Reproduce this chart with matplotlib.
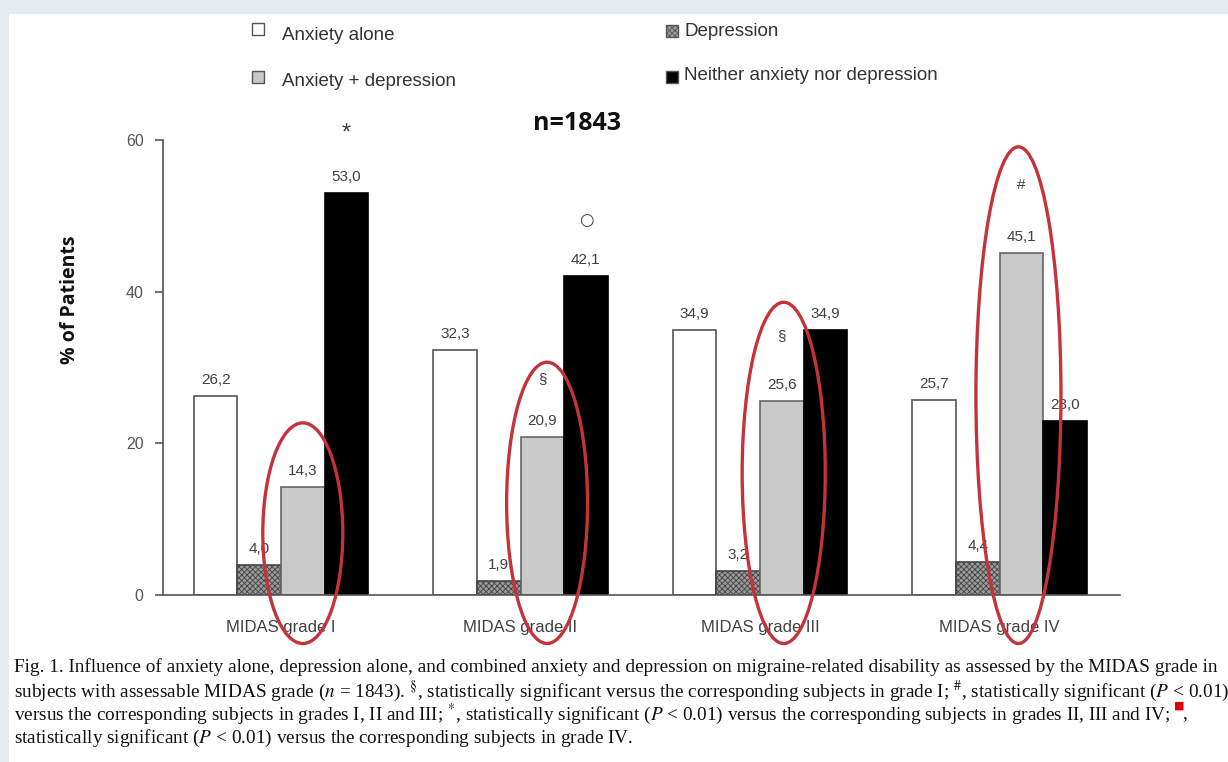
import matplotlib
matplotlib.use("Agg")
import matplotlib.pyplot as plt
from matplotlib.patches import Ellipse, Rectangle
import numpy as np

# data
grades = ["MIDAS grade I", "MIDAS grade II", "MIDAS grade III", "MIDAS grade IV"]
series = ["Anxiety alone", "Depression", "Anxiety + depression",
          "Neither anxiety nor depression"]
anxiety_alone = [26.2, 32.3, 34.9, 25.7]
depression = [4.0, 1.9, 3.2, 4.4]
anxiety_depression = [14.3, 20.9, 25.6, 45.1]
neither = [53.0, 42.1, 34.9, 23.0]
values = [anxiety_alone, depression, anxiety_depression, neither]

# significance marks: (series, grade, symbol)
marks = [(3, 0, "*"), (3, 1, "\u25cb"), (2, 1, "§"), (2, 2, "§"), (2, 3, "#")]
mark_offset = [60, 56, 57, 65, 68]   # pixels above bar top

# red highlight ellipses around the anxiety + depression bars
ellipse_top = [22.7, 30.7, 38.6, 59.1]
ellipse_bottom = -6.4
ellipse_w = [0.334, 0.338, 0.347, 0.355]
ellipse_dx = [0.0, 0.02, 0.008, -0.012]

caption = [
    "Fig. 1. Influence of anxiety alone, depression alone, and combined anxiety and depression on migraine-related disability as assessed by the MIDAS grade in",
    "subjects with assessable MIDAS grade ($\\it{n}$ = 1843). $^{§}$, statistically significant versus the corresponding subjects in grade I; $^{\\#}$, statistically significant ($\\it{P}$ < 0.01)",
    "versus the corresponding subjects in grades I, II and III; $^{*}$, statistically significant ($\\it{P}$ < 0.01) versus the corresponding subjects in grades II, III and IV; ",
    "statistically significant ($\\it{P}$ < 0.01) versus the corresponding subjects in grade IV.",
]

plt.rcParams['font.family'] = ['Liberation Sans', 'DejaVu Sans']
plt.rcParams['mathtext.fontset'] = 'stix'
plt.rcParams['hatch.linewidth'] = 0.6

W, H = 1228, 762
fig = plt.figure(figsize=(W / 100, H / 100), dpi=100, facecolor='#e6ebf0')


def fx(px):
    return px / W


def fy(py):
    return 1 - py / H


# white page behind everything
fig.patches.append(Rectangle((fx(9), 0), 1, fy(14), transform=fig.transFigure,
                             facecolor='white', edgecolor='none', zorder=-10))

ax = fig.add_axes([fx(163), fy(595), (1120 - 163) / W, (595 - 140) / H])
ax.set_facecolor('none')
ax.set_zorder(1)

w = 0.182
x = np.arange(len(grades))
faces = ['white', '#9a9a9a', '#c9c9c9', 'black']
hatches = [None, 'xxxxxx', None, None]
edges = ['#555555', '#444444', '#666666', 'black']

for i, vals in enumerate(values):
    ax.bar(x + (i - 1.5) * w, vals, w, facecolor=faces[i], edgecolor=edges[i],
           hatch=hatches[i], linewidth=1.2, zorder=2)
    for xi, v in zip(x + (i - 1.5) * w, vals):
        ax.annotate(f"{v:.1f}".replace(".", ","), (xi, v), xytext=(0, 9),
                    textcoords='offset pixels', ha='center', va='bottom',
                    fontsize=11, color='#404040', zorder=3)

for k, (si, gi, sym) in enumerate(marks):
    xi = x[gi] + (si - 1.5) * w
    v = values[si][gi]
    fs = {"*": 17, "\u25cb": 12}.get(sym, 11)
    fam = ['DejaVu Sans'] if sym == "\u25cb" else ['Liberation Sans']
    ax.annotate(sym, (xi, v), xytext=(0, mark_offset[k]), textcoords='offset pixels',
                ha='center', va='center', fontsize=fs, color='#404040',
                family=fam, annotation_clip=False, zorder=3)

for gi in range(len(grades)):
    cx = x[gi] + 0.5 * w + ellipse_dx[gi]
    cy = (ellipse_top[gi] + ellipse_bottom) / 2
    h = ellipse_top[gi] - ellipse_bottom
    e = Ellipse((cx, cy), ellipse_w[gi], h, facecolor='none', edgecolor='#c4333b',
                linewidth=2.4, clip_on=False, zorder=5)
    ax.add_patch(e)

ax.set_xlim(-0.4927, 3.503)
ax.set_ylim(0, 60)
ax.set_yticks([0, 20, 40, 60])
ax.set_xticks(x)
ax.set_xticklabels(grades)
ax.tick_params(axis='x', length=0, pad=18, labelsize=12, labelcolor='#404040')
ax.tick_params(axis='y', length=6, width=1.2, color='#555555', pad=8,
               labelsize=11.5, labelcolor='#555555')
for s in ['top', 'right']:
    ax.spines[s].set_visible(False)
for s in ['left', 'bottom']:
    ax.spines[s].set_color('#555555')
    ax.spines[s].set_linewidth(1.2)

fig.text(fx(70), fy(300), "% of Patients", rotation=90, ha='center', va='center',
         fontsize=14, fontweight='bold', family=['Open Sans', 'DejaVu Sans'],
         color='#111111')
fig.text(fx(577), fy(123), "n=1843", ha='center', va='center', fontsize=18,
         fontweight='bold', family=['Open Sans', 'DejaVu Sans'], color='#111111')

# legend drawn by hand to follow the original layout
legend_pos = [(252, 29, 282, 36), (666, 31, 684, 31), (252, 77, 282, 81),
              (666, 77, 684, 76)]
for i, (mx, my, tx, ty) in enumerate(legend_pos):
    sz = 12
    fig.patches.append(Rectangle((fx(mx), fy(my + sz / 2)), sz / W, sz / H,
                                 transform=fig.transFigure, facecolor=faces[i],
                                 edgecolor='#555555', hatch=hatches[i],
                                 linewidth=1.0, zorder=3))
    fig.text(fx(tx), fy(ty), series[i], ha='left', va='center', fontsize=13.5,
             color='#333333')

# caption
cap_y = [667, 691, 714, 738]
cap_texts = []
for line, yy in zip(caption, cap_y):
    t = fig.text(fx(14), fy(yy), line, ha='left', va='center', fontsize=13.9,
                 family=['Liberation Serif'], color='#111111')
    cap_texts.append(t)

fig.canvas.draw()
bb = cap_texts[2].get_window_extent()
fig.text(bb.x1 / W + 2 / W, fy(706), "\u25a0", ha='left', va='center', fontsize=8,
         color='#e00000', family=['DejaVu Sans'])
fig.text(bb.x1 / W + 11 / W, fy(714), ",", ha='left', va='center', fontsize=13.9,
         family=['Liberation Serif'], color='#111111')

fig.savefig("out.png", dpi=100, facecolor=fig.get_facecolor())
